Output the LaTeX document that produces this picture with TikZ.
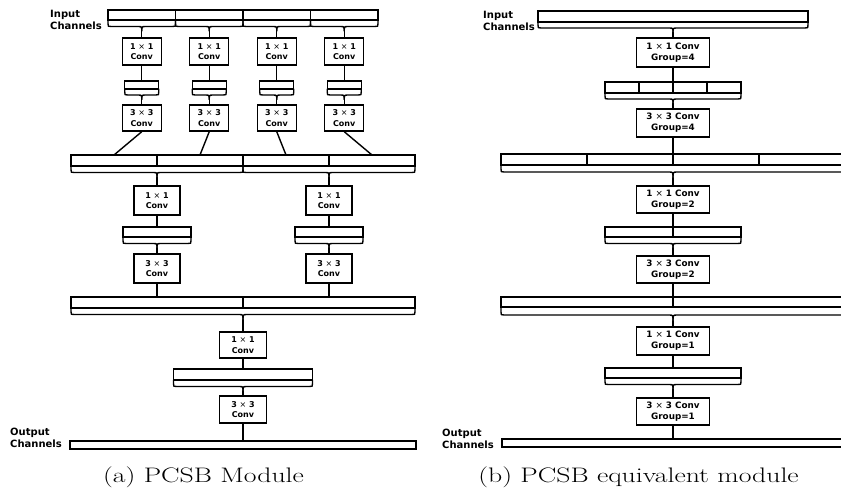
\documentclass[tikz,border=0pt]{standalone}
\usepackage{fontspec}
\newfontfamily\dejavu{DejaVu Sans}
\tikzset{
  ln/.style={line width=1.4pt, line cap=round, line join=round},
  boxL/.style={draw, line width=1.4pt, inner sep=0pt, align=center,
    font=\dejavu\bfseries\fontsize{8}{10.5}\selectfont, minimum width=39pt, minimum height=27pt},
  boxR/.style={draw, line width=1.4pt, inner sep=0pt, align=center,
    font=\dejavu\bfseries\fontsize{8.8}{11}\selectfont, minimum width=73pt, minimum height=28pt},
  barnode/.style={draw, line width=1.4pt, inner sep=0pt},
  lbl/.style={font=\dejavu\bfseries\fontsize{10}{12}\selectfont, align=left, inner sep=0pt, anchor=north west},
  capt/.style={font=\fontsize{21}{25}\selectfont, anchor=base, inner sep=0pt}
}
% brace under a bar: #1 left x, #2 right x, #3 bar bottom y, #4 depth, #5 tip length, #6 tip name
\newcommand\brc[6]{%
  \pgfmathsetmacro\brcl{#1}%
  \pgfmathsetmacro\brcr{#2}%
  \pgfmathsetmacro\brcx{(\brcl+\brcr)/2}%
  \pgfmathsetmacro\brcy{#3+#4}%
  \pgfmathsetmacro\brct{#3+#4+#5}%
  \draw[ln] (\brcl,#3) -- (\brcl,{\brcy-3}) .. controls (\brcl,\brcy) .. ({\brcl+3},\brcy)
    -- ({\brcx-4},\brcy) .. controls (\brcx,\brcy) .. (\brcx,\brct);
  \draw[ln] (\brcr,#3) -- (\brcr,{\brcy-3}) .. controls (\brcr,\brcy) .. ({\brcr-3},\brcy)
    -- ({\brcx+4},\brcy) .. controls (\brcx,\brcy) .. (\brcx,\brct);
  \coordinate (#6) at (\brcx,\brct);
}
\begin{document}
\begin{tikzpicture}[x=1pt,y=-1pt]
\useasboundingbox (0,0) rectangle (841,491);
\clip (0,0) rectangle (841,491);

% ================= (a) PCSB Module =================
\node[lbl] (inlblA) at (50,10) {Input\\Channels};
\node[barnode, minimum width=270pt, minimum height=10pt] (inA) at (243,15) {};
\foreach \d in {175.5,243,310.5} \draw[ln] (\d,10) -- (\d,20);
\brc{108}{175.5}{20}{6.5}{4.5}{t1}
\brc{175.5}{243}{20}{6.5}{4.5}{t2}
\brc{243}{310.5}{20}{6.5}{4.5}{t3}
\brc{310.5}{378}{20}{6.5}{4.5}{t4}

\foreach \i/\x/\m in {1/141.75/114, 2/209.25/200, 3/276.75/286, 4/344.25/372} {
  \node[boxL] (a\i) at (\x,51.5) {1 {\mdseries ×} 1\\Conv};
  \node[barnode, minimum width=34pt, minimum height=8pt] (s\i) at (\x,85) {};
  \brc{\x-17}{\x+17}{89}{6}{4.5}{u\i}
  \node[boxL, minimum height=26pt] (b\i) at (\x,118) {3 {\mdseries ×} 3\\Conv};
  \coordinate (m\i) at (\m,155);
  \draw[ln] (t\i) -- (a\i.north);
  \draw[ln] (a\i.south) -- (s\i.north);
  \draw[ln] (u\i) -- (b\i.north);
  \draw[ln] (b\i.south) -- (m\i);
}

\node[barnode, minimum width=344pt, minimum height=11pt] (midA) at (243,160.5) {};
\foreach \d in {157,243,329} \draw[ln] (\d,155) -- (\d,166);
\brc{71}{243}{166}{6.5}{5}{v1}
\brc{243}{415}{166}{6.5}{5}{v2}

\foreach \i/\x in {1/157, 2/329} {
  \node[boxL, minimum width=46pt, minimum height=29pt] (c\i) at (\x,200.5) {1 {\mdseries ×} 1\\Conv};
  \node[barnode, minimum width=68pt, minimum height=10pt] (w\i) at (\x,232) {};
  \brc{\x-34}{\x+34}{237}{6.5}{4.5}{ww\i}
  \node[boxL, minimum width=46pt, minimum height=29pt] (d\i) at (\x,268.5) {3 {\mdseries ×} 3\\Conv};
  \coordinate (n\i) at (\x,297);
  \draw[ln] (v\i) -- (c\i.north);
  \draw[ln] (c\i.south) -- (w\i.north);
  \draw[ln] (ww\i) -- (d\i.north);
  \draw[ln] (d\i.south) -- (n\i);
}

\node[barnode, minimum width=344pt, minimum height=11pt] (lowA) at (243,302.5) {};
\draw[ln] (243,297) -- (243,308);
\brc{71}{415}{308}{6.5}{5.5}{x0}
\node[boxL, minimum width=47pt, minimum height=26pt] (e1) at (243,345) {1 {\mdseries ×} 1\\Conv};
\node[barnode, minimum width=139pt, minimum height=11pt] (sbA) at (243,374.5) {};
\brc{173.5}{312.5}{380}{6.5}{4.5}{y0}
\node[boxL, minimum width=47pt, minimum height=27pt] (f1) at (243,409.5) {3 {\mdseries ×} 3\\Conv};
\node[barnode, minimum width=346pt, minimum height=8pt] (outA) at (243,445) {};
\draw[ln] (x0) -- (e1.north);
\draw[ln] (e1.south) -- (sbA.north);
\draw[ln] (y0) -- (f1.north);
\draw[ln] (f1.south) -- (outA.north);
\node[lbl] (outlblA) at (10,428) {Output\\Channels};

\node[capt] (capA) at (203.5,482) {\scalebox{1.32}[1]{(a) PCSB Module}};

% ================= (b) PCSB equivalent module =================
\node[lbl] (inlblB) at (483,11) {Input\\Channels};
\node[barnode, minimum width=270pt, minimum height=11pt] (inB) at (673,16.5) {};
\brc{538}{808}{22}{6}{4.5}{p0}
\node[boxR, minimum height=29pt] (g1) at (673,52.5) {1 {\mdseries ×} 1 Conv\\Group=4};
\node[barnode, minimum width=136pt, minimum height=11pt] (q1) at (673,87.5) {};
\foreach \d in {639,673,707} \draw[ln] (\d,82) -- (\d,93);
\brc{605}{741}{93}{6}{4.5}{p1}
\node[boxR, minimum height=28pt] (g2) at (673,123) {3 {\mdseries ×} 3 Conv\\Group=4};
\node[barnode, minimum width=344pt, minimum height=11pt] (q2) at (673,159.5) {};
\foreach \d in {587,673,759} \draw[ln] (\d,154) -- (\d,165);
\brc{501}{845}{165}{7}{6}{p2}
\node[boxR, minimum height=27pt] (g3) at (673,199.5) {1 {\mdseries ×} 1 Conv\\Group=2};
\node[barnode, minimum width=136pt, minimum height=10pt] (q3) at (673,232) {};
\draw[ln] (673,227) -- (673,237);
\brc{605}{741}{237}{6.5}{4.5}{p3}
\node[boxR, minimum height=27pt] (g4) at (673,269.5) {3 {\mdseries ×} 3 Conv\\Group=2};
\node[barnode, minimum width=344pt, minimum height=10pt] (q4) at (673,302) {};
\draw[ln] (673,297) -- (673,307);
\brc{501}{845}{307}{8}{6}{p4}
\node[boxR, minimum height=28pt] (g5) at (673,341) {1 {\mdseries ×} 1 Conv\\Group=1};
\node[barnode, minimum width=136pt, minimum height=10pt] (q5) at (673,373) {};
\brc{605}{741}{378}{6.5}{5}{p5}
\node[boxR, minimum height=27pt] (g6) at (673,411.5) {3 {\mdseries ×} 3 Conv\\Group=1};
\node[barnode, minimum width=344pt, minimum height=8pt] (outB) at (674,443) {};
\node[lbl] (outlblB) at (442,429) {Output\\Channels};

\draw[ln] (p0) -- (g1.north);
\draw[ln] (g1.south) -- (q1.north);
\draw[ln] (p1) -- (g2.north);
\draw[ln] (g2.south) -- (q2.north);
\draw[ln] (p2) -- (g3.north);
\draw[ln] (g3.south) -- (q3.north);
\draw[ln] (p3) -- (g4.north);
\draw[ln] (g4.south) -- (q4.north);
\draw[ln] (p4) -- (g5.north);
\draw[ln] (g5.south) -- (q5.north);
\draw[ln] (p5) -- (g6.north);
\draw[ln] (g6.south) -- (g6.south |- outB.north);

\node[capt] (capB) at (638.5,482) {\scalebox{1.32}[1]{(b) PCSB equivalent module}};
\end{tikzpicture}
\end{document}
